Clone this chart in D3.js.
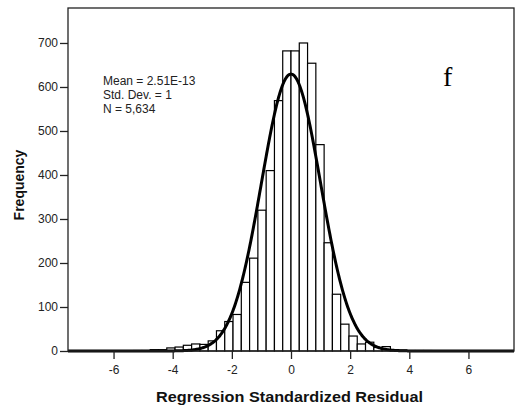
<!DOCTYPE html>
<html>
<head>
<meta charset="utf-8">
<script src="https://cdn.jsdelivr.net/npm/d3@7"></script>
<style>
  html, body { margin: 0; padding: 0; background: #fff; }
  svg { display: block; }
</style>
</head>
<body>
<svg id="chart" width="519" height="409"></svg>
<script>
// ---- data ----
const binWidth = 0.28;
const firstBinStart = -5.32;
const counts = [1, 1, 3, 3, 7, 9, 13, 16, 15, 23, 46, 67, 83, 156, 211, 320, 410, 569, 682,
                682, 700, 654, 469, 246, 129, 61, 34, 16, 20, 8, 10, 3, 2, 1, 1, 1];
const xTicks = [-6, -4, -2, 0, 2, 4, 6];
const yTicks = [0, 100, 200, 300, 400, 500, 600, 700];
const statsLines = ["Mean = 2.51E-13", "Std. Dev. = 1", "N = 5,634"];
const meanVal = 0, sdVal = 1, nVal = 5634;
const panelLabel = "f";
const xTitle = "Regression Standardized Residual";
const yTitle = "Frequency";

// ---- layout ----
const L = 68, R = 514, T = 8, B = 351;
const svg = d3.select("#chart");
const x = d3.scaleLinear().domain([-7.54, 7.54]).range([L, R]);
const y = d3.scaleLinear().domain([0, 779.5]).range([B, T]);
const FONT = "'Liberation Sans', Arial, sans-serif";

const bins = counts.map((c, i) => ({ x0: firstBinStart + i * binWidth, x1: firstBinStart + (i + 1) * binWidth, c }));

// bars
svg.append("g").selectAll("rect").data(bins).join("rect")
  .attr("x", d => x(d.x0))
  .attr("y", d => y(d.c))
  .attr("width", d => x(d.x1) - x(d.x0))
  .attr("height", d => y(0) - y(d.c))
  .attr("fill", "#fff")
  .attr("stroke", "#000")
  .attr("stroke-width", 1.2);

// normal curve
const scale = nVal * binWidth;
const pts = d3.range(-7.54, 7.5401, 0.02).map(v => [v, scale * Math.exp(-0.5 * ((v - meanVal) / sdVal) ** 2) / (sdVal * Math.sqrt(2 * Math.PI))]);
svg.append("path")
  .datum(pts)
  .attr("d", d3.line().x(d => x(d[0])).y(d => y(d[1])))
  .attr("fill", "none")
  .attr("stroke", "#000")
  .attr("stroke-width", 3);

// frame
svg.append("rect")
  .attr("x", L).attr("y", T).attr("width", R - L).attr("height", B - T)
  .attr("fill", "none").attr("stroke", "#222").attr("stroke-width", 1.3);

// axes
const xAxis = svg.append("g").attr("transform", `translate(0,${B})`)
  .call(d3.axisBottom(x).tickValues(xTicks).tickSize(8).tickSizeOuter(0).tickPadding(6).tickFormat(d3.format("d")));
const yAxis = svg.append("g").attr("transform", `translate(${L},0)`)
  .call(d3.axisLeft(y).tickValues(yTicks).tickSize(8).tickSizeOuter(0).tickPadding(2));
[xAxis, yAxis].forEach(g => {
  g.select(".domain").remove();
  g.selectAll(".tick line").attr("stroke", "#222").attr("stroke-width", 1.3);
  g.selectAll(".tick text").attr("fill", "#222")
    .style("font-family", FONT).style("font-size", "12px");
});
xAxis.selectAll(".tick text").text(d => d < 0 ? "-" + Math.abs(d) : d);

// titles
svg.append("text")
  .attr("x", 156).attr("y", 402)
  .attr("textLength", 267).attr("lengthAdjust", "spacingAndGlyphs")
  .style("font-family", FONT)
  .style("font-size", "14.5px").style("font-weight", "bold").attr("fill", "#111")
  .text(xTitle);
svg.append("text")
  .attr("transform", "translate(24,185) rotate(-90)")
  .attr("text-anchor", "middle")
  .style("font-family", FONT)
  .style("font-size", "14px").style("font-weight", "bold").attr("fill", "#111")
  .text(yTitle);

// stats
svg.append("g").selectAll("text").data(statsLines).join("text")
  .attr("x", 103).attr("y", (d, i) => 85 + i * 14)
  .style("font-family", FONT)
  .style("font-size", "12px").attr("fill", "#222")
  .text(d => d);

// panel label
svg.append("text")
  .attr("x", 443).attr("y", 86)
  .style("font-family", "'Liberation Serif', 'Times New Roman', serif")
  .style("font-size", "28px").attr("fill", "#000")
  .text(panelLabel);
</script>
</body>
</html>
